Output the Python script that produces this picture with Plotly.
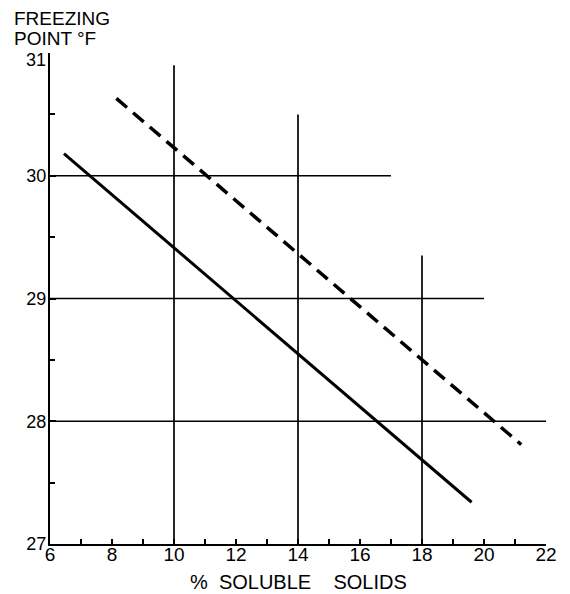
import plotly.graph_objects as go

# Data
solid_x = [6.45, 19.6]
solid_y = [30.18, 27.34]
dashed_x = [8.14, 21.2]
dashed_y = [30.63, 27.81]

# partial grid segments: horizontal lines from x=6 to end; vertical lines from y=27 to top
hgrid_y = [30, 29, 28]
hgrid_end = [17, 20, 22]
vgrid_x = [10, 14, 18]
vgrid_top = [30.9, 30.5, 29.35]

x_ticks = [6, 8, 10, 12, 14, 16, 18, 20, 22]
y_ticks = [27, 28, 29, 30, 31]
y_top_tick = [31]

FONT = "Liberation Sans, Arial, sans-serif"

# page body has an 8px margin; plot area target (page px): left 50, right 546, top 53, bottom 544
PW, PH = 496, 491

fig = go.Figure()

shapes = []
for y, xe in zip(hgrid_y, hgrid_end):
    shapes.append(dict(type="line", xref="x", yref="y", x0=6, x1=xe, y0=y, y1=y,
                       line=dict(color="black", width=1.5), layer="below"))
for x, yt in zip(vgrid_x, vgrid_top):
    shapes.append(dict(type="line", xref="x", yref="y", x0=x, x1=x, y0=27, y1=yt,
                       line=dict(color="black", width=1.7), layer="below"))

fig.add_trace(go.Scatter(x=solid_x, y=solid_y, mode="lines",
                         line=dict(color="black", width=3), showlegend=False, hoverinfo="skip"))
fig.add_trace(go.Scatter(x=dashed_x, y=dashed_y, mode="lines",
                         line=dict(color="black", width=3.5, dash="14px,8px"),
                         showlegend=False, hoverinfo="skip"))
# empty trace so the overlaid label axis for "31" is drawn
fig.add_trace(go.Scatter(x=[None], y=[None], yaxis="y2", mode="lines",
                         showlegend=False, hoverinfo="skip"))

NB = "\u00a0"
fig.update_layout(
    width=562, height=586,
    margin=dict(l=42, r=24, t=45, b=50, autoexpand=False),
    paper_bgcolor="white", plot_bgcolor="white",
    font=dict(family=FONT, size=19, color="black"),
    shapes=shapes,
    showlegend=False,
    annotations=[
        dict(text="FREEZING", xref="paper", yref="paper",
             x=-37/PW, y=1 + (53 - 18)/PH, xanchor="left", yanchor="middle", align="left",
             showarrow=False, borderpad=0, font=dict(family=FONT, size=19, color="black")),
        dict(text="POINT °F", xref="paper", yref="paper",
             x=-37/PW, y=1 + (53 - 38)/PH, xanchor="left", yanchor="middle", align="left",
             showarrow=False, borderpad=0, font=dict(family=FONT, size=19, color="black")),
        dict(text="%" + NB * 2 + "SOLUBLE" + NB * 4 + "SOLIDS", xref="paper", yref="paper",
             x=0.5, y=-(582-544)/PH, xanchor="center", yanchor="middle",
             showarrow=False, borderpad=0, font=dict(family=FONT, size=20, color="black")),
    ],
    yaxis2=dict(overlaying="y", anchor="x", side="left", range=[27, 31],
                tickvals=y_top_tick, ticktext=[str(v) for v in y_top_tick],
                showgrid=False, zeroline=False, showline=False, ticks="",
                ticklabelstandoff=3, ticklabelshift=7,
                tickfont=dict(family=FONT, size=18, color="black")),
)

fig.update_xaxes(range=[6, 22], tickvals=x_ticks, ticktext=[str(v) for v in x_ticks],
                 showgrid=False, zeroline=False, showline=True, linecolor="black", linewidth=2,
                 ticks="inside", ticklen=5, tickwidth=1.5, tickcolor="black",
                 ticklabelstandoff=-8,
                 minor=dict(ticks="inside", dtick=1, tick0=6, ticklen=5, tickwidth=1.5,
                            tickcolor="black", showgrid=False),
                 tickfont=dict(family=FONT, size=19, color="black"))
fig.update_layout(yaxis=dict(range=[27, 31], tickvals=y_ticks,
                 ticktext=["" if v in y_top_tick else str(v) for v in y_ticks],
                 showgrid=False, zeroline=False, showline=True, linecolor="black", linewidth=2,
                 ticks="inside", ticklen=6, tickwidth=1.5, tickcolor="black",
                 ticklabelstandoff=-2,
                 minor=dict(ticks="inside", dtick=0.5, tick0=27, ticklen=5, tickwidth=1.5,
                            tickcolor="black", showgrid=False),
                 tickfont=dict(family=FONT, size=18, color="black")))

fig.write_html("out.html")
